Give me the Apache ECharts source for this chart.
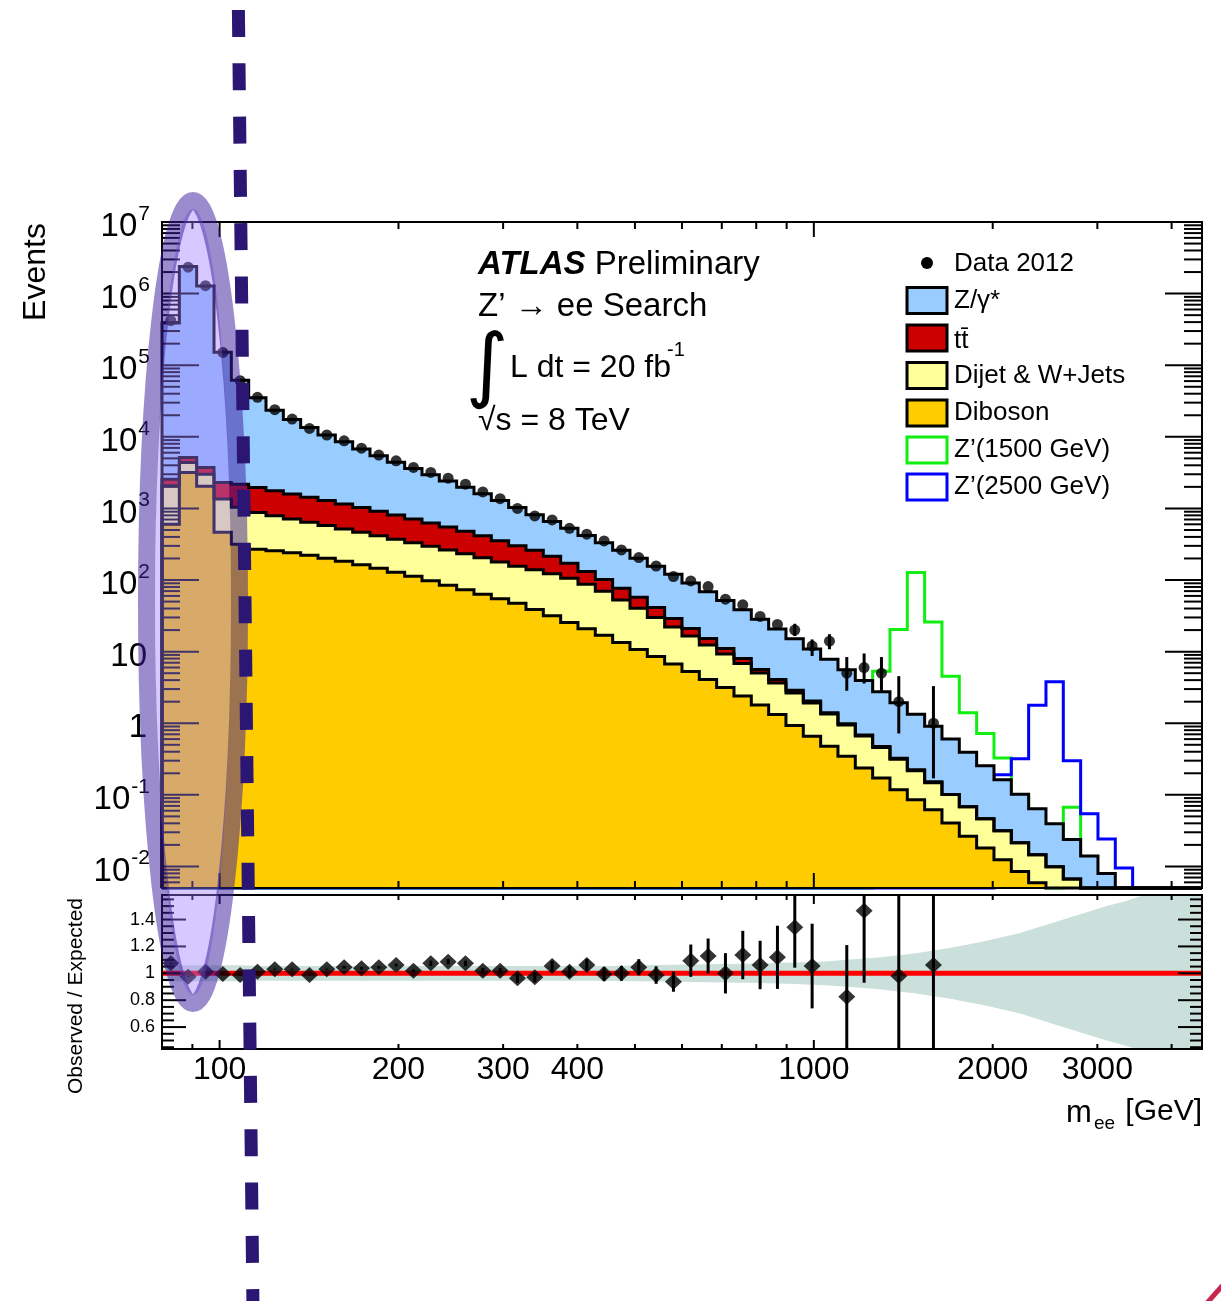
<!DOCTYPE html>
<html>
<head>
<meta charset="utf-8">
<title>ATLAS Z' to ee search</title>
<script src="https://cdn.jsdelivr.net/npm/echarts@6/dist/echarts.min.js"></script>
<style>
html,body{margin:0;padding:0;background:#ffffff;}
#chart{width:1221px;height:1301px;}
</style>
</head>
<body>
<div id="chart"></div>
<script>
// ---------------- data ----------------
const binEdges = [80, 85.56, 91.50, 97.86, 104.66, 111.93, 119.70, 128.02, 136.91, 146.42, 156.59,
  167.47, 179.10, 191.54, 204.85, 219.08, 234.30, 250.58, 267.99, 286.60, 306.51,
  327.80, 350.57, 374.92, 400.96, 428.81, 458.60, 490.46, 524.53, 560.97, 599.94,
  641.62, 686.19, 733.86, 784.84, 839.36, 897.67, 960.03, 1026.72, 1098.05, 1174.33,
  1255.91, 1343.16, 1436.47, 1536.26, 1642.98, 1757.12, 1879.19, 2009.74, 2149.36, 2298.68,
  2458.37, 2629.15, 2811.80, 3007.14, 3216.05, 3439.47, 3678.41, 3933.95, 4207.24, 4500];

const dataCounts = [419000, 2340000, 1290000, 151000, 60700, 35600, 23900, 17700, 13100, 10600,
  8790, 6950, 5550, 4620, 3730, 3180, 2640, 2180, 1700, 1370,
  1000, 785, 690, 528, 436, 351, 263, 206, 157, 112,
  97, 81, 54, 45, 31, 24, 20, 12, 14, 5,
  6, 5, 2, 0, 1, 0, 0, 0, 0, 0,
  0, 0, 0, 0, 0, 0, 0, 0, 0, 0];

const zgamma = [387400, 2395000, 1276000, 149700, 59300, 33240, 21780, 15860, 12060, 9350,
  7400, 5730, 4520, 3610, 2890, 2320, 1865, 1492, 1185, 935,
  727, 554, 443, 356, 287, 229, 183.4, 144.7, 114.5, 90.9,
  70.0, 53.5, 40.5, 30.4, 22.8, 16.7, 12.2, 8.86, 6.44, 4.60,
  3.25, 2.29, 1.60, 1.11, 0.759, 0.502, 0.326, 0.208, 0.131, 0.0806,
  0.0492, 0.0295, 0.0170, 0.0140, 0.0080, 0, 0, 0, 0, 0];

const ttbar = [490, 760, 720, 950, 1140, 1083, 979, 883, 794, 712,
  636, 565, 499, 438, 382, 331, 287, 248, 211, 174,
  145, 121, 92, 65, 44.9, 32.5, 23.8, 17.1, 11.4, 7.0,
  4.5, 2.9, 1.81, 1.2, 0.6, 0.43, 0.26, 0.12, 0.06, 0.04,
  0.025, 0.016, 0.010, 0.006, 0.004, 0, 0, 0, 0, 0,
  0, 0, 0, 0, 0, 0, 0, 0, 0, 0];

const dijet = [1469, 1210, 970, 885, 724, 608, 535, 473, 420, 376,
  334, 302, 269, 243, 218, 198.5, 178.7, 159.1, 140.9, 124.4,
  108.8, 100.1, 90.4, 80.4, 66.3, 52.6, 39.4, 29.5, 21.5, 15.4,
  11.3, 8.32, 6.13, 4.44, 3.24, 2.33, 1.71, 1.26, 0.868, 0.599,
  0.424, 0.285, 0.197, 0.132, 0.0859, 0.0603, 0.0421, 0.0284, 0.0191, 0.0129,
  0.0087, 0.0099, 0.0067, 0, 0, 0, 0, 0, 0, 0];

const diboson = [601, 3180, 2040, 465, 316, 269, 256, 240, 221, 201,
  183, 163, 146, 128, 113, 97.5, 84.3, 72.9, 63.1, 54.6,
  47.2, 38.9, 31.6, 25.6, 20.8, 16.9, 13.4, 10.7, 8.57, 6.73,
  5.28, 4.08, 3.16, 2.40, 1.80, 1.32, 0.929, 0.658, 0.477, 0.345,
  0.238, 0.172, 0.118, 0.0857, 0.0621, 0.0404, 0.0263, 0.0181, 0.0124, 0.0085,
  0.0059, 0, 0, 0, 0, 0, 0, 0, 0, 0];

const zprime1500 = [0, 0, 0, 0, 0, 0, 0, 0, 0, 0,
  0, 0, 0, 0, 0, 0, 0, 0, 0, 0,
  0, 0, 0, 0, 0, 0, 0, 0, 0, 0,
  0, 0, 0, 0, 0, 0, 0, 0, 0, 0,
  0, 5.34, 20.4, 127, 25.9, 4.54, 1.40, 0.718, 0.328, 0.09,
  0.04, 0, 0.067, 0, 0, 0, 0, 0, 0, 0];

const zprime2500 = [0, 0, 0, 0, 0, 0, 0, 0, 0, 0,
  0, 0, 0, 0, 0, 0, 0, 0, 0, 0,
  0, 0, 0, 0, 0, 0, 0, 0, 0, 0,
  0, 0, 0, 0, 0, 0, 0, 0, 0, 0,
  0, 0, 0, 0, 0, 0, 0, 0, 0.191, 0.318,
  1.79, 3.79, 0.30, 0.0545, 0.0242, 0.0095, 0, 0, 0, 0];

// visible data error bars (main panel), bin index + lower/upper bound
const dataErrBins = [36, 37, 38, 39, 40, 41, 42, 44];
const dataErrLow  = [16.5, 8.7, 10.8, 2.84, 3.59, 2.84, 0.72, 0.17];
const dataErrHigh = [24.5, 14.8, 17.5, 8.4, 9.42, 8.4, 4.55, 3.3];

// ratio panel (bins 0..44), null = not drawn
const ratioValues = [1.074, 0.975, 1.012, 0.995, 0.987, 1.012, 1.030, 1.030, 0.987, 1.030,
  1.045, 1.037, 1.045, 1.062, 1.019, 1.074, 1.086, 1.074, 1.019, 1.019,
  0.963, 0.970, 1.054, 1.012, 1.062, 0.995, 1.000, 1.045, 0.987, 0.938,
  1.094, 1.129, 1.000, 1.136, 1.062, 1.119, 1.342, 1.054, null, 0.826,
  1.466, null, 0.980, null, 1.062];
const ratioErrDown = [0.004, 0.004, 0.004, 0.004, 0.004, 0.004, 0.004, 0.004, 0.004, 0.004,
  0.01, 0.01, 0.01, 0.01, 0.01, 0.02, 0.02, 0.02, 0.02, 0.02,
  0.035, 0.037, 0.039, 0.042, 0.045, 0.05, 0.055, 0.06, 0.065, 0.075,
  0.12, 0.13, 0.15, 0.18, 0.18, 0.235, 0.30, 0.315, 0, 0.426,
  0.536, 0, 0.68, 0, 0.88];
const ratioErrUp = [0.004, 0.004, 0.004, 0.004, 0.004, 0.004, 0.004, 0.004, 0.004, 0.004,
  0.01, 0.01, 0.01, 0.01, 0.01, 0.02, 0.02, 0.02, 0.02, 0.02,
  0.035, 0.037, 0.039, 0.042, 0.045, 0.05, 0.055, 0.06, 0.065, 0.075,
  0.12, 0.13, 0.15, 0.18, 0.18, 0.235, 0.30, 0.315, 0, 0.384,
  0.534, 0, 1.32, 0, 2.44];

// systematic band half width around 1 (per bin)
const sysBand = [0.06, 0.06, 0.06, 0.06, 0.06, 0.055, 0.055, 0.055, 0.055, 0.055,
  0.055, 0.055, 0.055, 0.055, 0.055, 0.055, 0.055, 0.055, 0.055, 0.055,
  0.055, 0.055, 0.055, 0.055, 0.055, 0.055, 0.057, 0.059, 0.061, 0.063,
  0.065, 0.067, 0.069, 0.071, 0.073, 0.076, 0.08, 0.085, 0.09, 0.1,
  0.11, 0.12, 0.135, 0.15, 0.17, 0.19, 0.215, 0.24, 0.27, 0.30,
  0.34, 0.38, 0.42, 0.46, 0.50, 0.535, 0.575, 0.61, 0.65, 0.69];

// axis ticks and labels
const xMajorTicks = [100, 1000];
const xMinorTicks = [90, 200, 300, 400, 500, 600, 700, 800, 900, 2000, 3000, 4000];
const xTickLabels = [100, 200, 300, 400, 1000, 2000, 3000];
const yDecades = [-2, -1, 0, 1, 2, 3, 4, 5, 6, 7];
const ratioMajorTicks = [0.6, 0.8, 1.0, 1.2, 1.4];
const ratioTickLabels = ['0.6', '0.8', '1', '1.2', '1.4'];

const legendLabels = ['Data 2012', 'Z/\u03b3*', 'tt\u0304', 'Dijet & W+Jets', 'Diboson', 'Z\u2019(1500 GeV)', 'Z\u2019(2500 GeV)'];

// ---------------- styling / layout ----------------
const FONT = "'Liberation Sans', Arial, Helvetica, sans-serif";
const COL = {zgamma: '#99ccff', ttbar: '#cc0000', dijet: '#ffff99', diboson: '#ffcc00',
             z1500: '#11ee11', z2500: '#0000ff', band: '#cbe0da', red: '#ff0000'};
const X_MIN = 80, X_MAX = 4500, Y_MIN = 0.005, Y_MAX = 1e7, R_MIN = 0.4368, R_MAX = 1.5826;

const nBins = binEdges.length - 1;
const binCenters = [];
for (let i = 0; i < nBins; i++) binCenters.push((binEdges[i] + binEdges[i + 1]) / 2);

// cumulative stack levels
const levelD = diboson.slice();
const levelY = levelD.map((v, i) => v + dijet[i]);
const levelR = levelY.map((v, i) => v + ttbar[i]);
const levelT = levelR.map((v, i) => v + zgamma[i]);

function clampY(v) { return v > Y_MIN ? Math.min(v, Y_MAX) : Y_MIN; }
function clampR(v) { return Math.min(Math.max(v, R_MIN), R_MAX); }

function stepPoints(api, lv) {
  const pts = [api.coord([binEdges[0], Y_MIN])];
  for (let i = 0; i < lv.length; i++) {
    const v = clampY(lv[i]);
    pts.push(api.coord([binEdges[i], v]));
    pts.push(api.coord([binEdges[i + 1], v]));
  }
  pts.push(api.coord([binEdges[nBins], Y_MIN]));
  return pts;
}

function txt(x, y, text, size, align, extra) {
  const st = {text: text, fontSize: size, fontFamily: FONT, fill: '#000',
              align: align, textAlign: align, verticalAlign: 'middle', textVerticalAlign: 'middle'};
  if (extra) Object.assign(st, extra);
  return {type: 'text', x: x, y: y, style: st};
}
function seg(ch, x1, y1, x2, y2, w, c) {
  ch.push({type: 'line', shape: {x1: x1, y1: y1, x2: x2, y2: y2}, style: {stroke: c || '#000', lineWidth: w || 2}});
}

function cs(grid, z, render, clip) {
  return {type: 'custom', coordinateSystem: 'cartesian2d', xAxisIndex: grid, yAxisIndex: grid,
          z: z, silent: true, clip: !!clip, data: [[100, 1]],
          renderItem: function (params, api) { return render(api); }};
}

// ---------------- series ----------------
const series = [];

// signals (drawn first, stack fill hides them where below background)
series.push(cs(0, 1, function (api) {
  return {type: 'group', children: [
    {type: 'polyline', shape: {points: stepPoints(api, zprime1500)}, style: {stroke: COL.z1500, lineWidth: 3, fill: 'none'}},
    {type: 'polyline', shape: {points: stepPoints(api, zprime2500)}, style: {stroke: COL.z2500, lineWidth: 3, fill: 'none'}}
  ]};
}));

// stacked fills
series.push(cs(0, 2, function (api) {
  return {type: 'group', children: [
    {type: 'polygon', shape: {points: stepPoints(api, levelT)}, style: {fill: COL.zgamma}},
    {type: 'polygon', shape: {points: stepPoints(api, levelR)}, style: {fill: COL.ttbar}},
    {type: 'polygon', shape: {points: stepPoints(api, levelY)}, style: {fill: COL.dijet}},
    {type: 'polygon', shape: {points: stepPoints(api, levelD)}, style: {fill: COL.diboson}}
  ]};
}));

// stack outlines
series.push(cs(0, 3, function (api) {
  return {type: 'group', children: [levelT, levelR, levelY, levelD].map(lv => (
    {type: 'polyline', shape: {points: stepPoints(api, lv)}, style: {stroke: '#000', lineWidth: 3, fill: 'none'}}
  ))};
}));

// main frame + ticks
series.push(cs(0, 4, function (api) {
  const ch = [];
  const x0 = api.coord([X_MIN, 1])[0], x1 = api.coord([X_MAX, 1])[0];
  const yb = api.coord([100, Y_MIN])[1], yt = api.coord([100, Y_MAX])[1];
  yDecades.forEach(n => {
    const y = api.coord([100, Math.pow(10, n)])[1];
    seg(ch, x0, y, x0 + 37, y); seg(ch, x1, y, x1 - 37, y);
  });
  for (let n = -3; n <= 6; n++) {
    for (let m = 2; m <= 9; m++) {
      const v = m * Math.pow(10, n);
      if (v < Y_MIN * 0.999 || v > Y_MAX) continue;
      const y = api.coord([100, v])[1];
      seg(ch, x0, y, x0 + 18, y); seg(ch, x1, y, x1 - 18, y);
    }
  }
  xMajorTicks.forEach(v => { const x = api.coord([v, 1])[0]; seg(ch, x, yb, x, yb - 15); seg(ch, x, yt, x, yt + 15); });
  xMinorTicks.forEach(v => { const x = api.coord([v, 1])[0]; seg(ch, x, yb, x, yb - 7); seg(ch, x, yt, x, yt + 7); });
  ch.push({type: 'rect', shape: {x: x0, y: yt, width: x1 - x0, height: yb - yt}, style: {fill: 'none', stroke: '#000', lineWidth: 2}});
  return {type: 'group', children: ch};
}));

// main y labels
series.push(cs(0, 4, function (api) {
  const ch = [];
  const right = 150, dy = 5;
  yDecades.forEach(n => {
    const y = api.coord([100, Math.pow(10, n)])[1] + dy;
    if (n === 0) { ch.push(txt(147, y, '1', 33, 'right')); return; }
    if (n === 1) { ch.push(txt(147, y, '10', 33, 'right')); return; }
    const e = String(n);
    let ew = 0; for (const c of e) ew += (c === '-' ? 7 : 11.7);
    ch.push(txt(right, y - 13, e, 21, 'right'));
    ch.push(txt(right - ew - 1, y, '10', 33, 'right'));
  });
  return {type: 'group', children: ch};
}, false));

// data error bars
series.push(cs(0, 5, function (api) {
  const ch = [];
  dataErrBins.forEach((b, k) => {
    const p1 = api.coord([binCenters[b], clampY(dataErrLow[k])]);
    const p2 = api.coord([binCenters[b], clampY(dataErrHigh[k])]);
    seg(ch, p1[0], p1[1], p2[0], p2[1], 3);
  });
  return {type: 'group', children: ch};
}));

// data points
const dataPoints = [];
dataCounts.forEach((c, i) => { if (c > 0) dataPoints.push([binCenters[i], c]); });
series.push({type: 'scatter', xAxisIndex: 0, yAxisIndex: 0, z: 6, silent: true,
  symbol: 'circle', symbolSize: 11, itemStyle: {color: '#000'}, data: dataPoints});

// ratio band
series.push(cs(1, 2, function (api) {
  const up = [], lo = [];
  up.push(api.coord([X_MIN, 1 + sysBand[0]]));
  lo.push(api.coord([X_MIN, 1 - sysBand[0]]));
  for (let i = 0; i < nBins; i++) {
    up.push(api.coord([binCenters[i], 1 + sysBand[i]]));
    lo.push(api.coord([binCenters[i], 1 - sysBand[i]]));
  }
  up.push(api.coord([X_MAX, 1 + sysBand[nBins - 1]]));
  lo.push(api.coord([X_MAX, 1 - sysBand[nBins - 1]]));
  return {type: 'polygon', shape: {points: up.concat(lo.reverse())}, style: {fill: COL.band}};
}, true));

// ratio reference line
series.push(cs(1, 3, function (api) {
  const a = api.coord([X_MIN, 1]), b = api.coord([X_MAX, 1]);
  return {type: 'line', shape: {x1: a[0], y1: a[1], x2: b[0], y2: b[1]}, style: {stroke: COL.red, lineWidth: 5}};
}));

// ratio frame, ticks, labels
series.push(cs(1, 4, function (api) {
  const ch = [];
  const x0 = api.coord([X_MIN, 1])[0], x1 = api.coord([X_MAX, 1])[0];
  const yb = api.coord([100, R_MIN])[1], yt = api.coord([100, R_MAX])[1];
  ratioMajorTicks.forEach((v, k) => {
    const y = api.coord([100, v])[1];
    seg(ch, x0, y, x0 + 24, y); seg(ch, x1, y, x1 - 24, y);
    ch.push(txt(155, y, ratioTickLabels[k], 18, 'right'));
  });
  for (let k = 9; k <= 31; k++) {
    if (k % 4 === 0) continue;
    const y = api.coord([100, k * 0.05])[1];
    seg(ch, x0, y, x0 + 12, y); seg(ch, x1, y, x1 - 12, y);
  }
  xMajorTicks.forEach(v => { const x = api.coord([v, 1])[0]; seg(ch, x, yb, x, yb - 9); seg(ch, x, yt, x, yt + 9); });
  xMinorTicks.forEach(v => { const x = api.coord([v, 1])[0]; seg(ch, x, yb, x, yb - 5); seg(ch, x, yt, x, yt + 5); });
  xTickLabels.forEach(v => { const x = api.coord([v, 1])[0]; ch.push(txt(x, 1070, String(v), 32, 'center')); });
  ch.push({type: 'rect', shape: {x: x0, y: yt, width: x1 - x0, height: yb - yt}, style: {fill: 'none', stroke: '#000', lineWidth: 2}});
  return {type: 'group', children: ch};
}, false));

// ratio error bars
series.push(cs(1, 5, function (api) {
  const ch = [];
  ratioValues.forEach((r, i) => {
    if (r === null) return;
    const p1 = api.coord([binCenters[i], clampR(r - ratioErrDown[i])]);
    const p2 = api.coord([binCenters[i], clampR(r + ratioErrUp[i])]);
    seg(ch, p1[0], p1[1], p2[0], p2[1], 3);
  });
  return {type: 'group', children: ch};
}));

const ratioPoints = [];
ratioValues.forEach((r, i) => { if (r !== null) ratioPoints.push([binCenters[i], r]); });
series.push({type: 'scatter', xAxisIndex: 1, yAxisIndex: 1, z: 6, silent: true,
  symbol: 'diamond', symbolSize: [17, 16], itemStyle: {color: '#000'}, data: ratioPoints});

// ---------------- graphic: legend, annotations, overlays ----------------
const g = [];
function gtext(x, y, text, size, align, extra, rot) {
  const st = {text: text, fontSize: size, fontFamily: FONT, fill: '#000',
              align: align || 'left', textAlign: align || 'left', verticalAlign: 'middle', textVerticalAlign: 'middle'};
  if (extra) Object.assign(st, extra);
  const el = {type: 'text', x: x, y: y, style: st, z: 10};
  if (rot) el.rotation = rot;
  return el;
}
// legend
g.push({type: 'circle', shape: {cx: 927, cy: 263, r: 6}, style: {fill: '#000'}, z: 10});
g.push(gtext(954, 264, legendLabels[0], 26));
const legendRowY = [300.5, 338, 375.5, 413, 450, 487];
const legendFill = [COL.zgamma, COL.ttbar, COL.dijet, COL.diboson, '#ffffff', '#ffffff'];
const legendStroke = ['#000', '#000', '#000', '#000', COL.z1500, COL.z2500];
for (let k = 0; k < 6; k++) {
  g.push({type: 'rect', shape: {x: 907, y: legendRowY[k] - 13, width: 40, height: 26},
          style: {fill: legendFill[k], stroke: legendStroke[k], lineWidth: 3}, z: 10});
  g.push(gtext(954, legendRowY[k] + (k === 1 ? 3 : 0), legendLabels[k + 1], 26));
}
// annotation text block
g.push(gtext(478, 265, '{a|ATLAS} Preliminary', 33, 'left',
  {rich: {a: {fontSize: 33, fontFamily: FONT, fontWeight: 'bold', fontStyle: 'italic', fill: '#000'}}}));
g.push(gtext(478, 307, 'Z\u2019 \u2192 ee Search', 33));
g.push(gtext(487, 371, '\u222b', 82, 'center', {fontFamily: "'DejaVu Sans', 'Liberation Sans', sans-serif"}));
g.push(gtext(510, 368, 'L dt = 20 fb', 32));
g.push(gtext(667, 350, '-1', 20));
g.push(gtext(478, 421, '\u221as = 8 TeV', 32));
// axis titles
g.push(gtext(36, 272, 'Events', 32, 'center', null, Math.PI / 2));
g.push(gtext(76, 996, 'Observed / Expected', 21, 'center', null, Math.PI / 2));
g.push(gtext(1066, 1113, 'm', 31));
g.push(gtext(1094, 1124, 'ee', 19));
g.push(gtext(1202, 1112, '[GeV]', 30, 'right'));

// overlays drawn on top of the chart
g.push({type: 'ellipse', shape: {cx: 193, cy: 602, rx: 38, ry: 393}, style: {fill: 'rgba(157,121,255,0.41)'}, z: 100});
g.push({type: 'ellipse', shape: {cx: 193, cy: 602, rx: 46.5, ry: 401.5}, style: {fill: 'none', stroke: 'rgba(59,29,157,0.51)', lineWidth: 17}, z: 100});
g.push({type: 'line', shape: {x1: 237.8, y1: -43.3, x2: 252.9, y2: 1301}, style: {stroke: '#2b1773', lineWidth: 13, lineDash: [27, 26.3]}, z: 101});
g.push({type: 'line', shape: {x1: 1207, y1: 1303, x2: 1223, y2: 1285}, style: {stroke: '#c8264f', lineWidth: 5}, z: 101});

const option = {
  animation: false,
  backgroundColor: '#ffffff',
  grid: [
    {left: 162, top: 222, width: 1040, height: 666, containLabel: false, outerBoundsMode: 'none'},
    {left: 162, top: 895, width: 1040, height: 154, containLabel: false, outerBoundsMode: 'none'}
  ],
  xAxis: [
    {type: 'log', gridIndex: 0, logBase: 10, min: X_MIN, max: X_MAX, show: false},
    {type: 'log', gridIndex: 1, logBase: 10, min: X_MIN, max: X_MAX, show: false}
  ],
  yAxis: [
    {type: 'log', gridIndex: 0, logBase: 10, min: Y_MIN, max: Y_MAX, show: false},
    {type: 'value', gridIndex: 1, min: R_MIN, max: R_MAX, show: false}
  ],
  series: series,
  graphic: {elements: g}
};

const chart = echarts.init(document.getElementById('chart'), null, {renderer: 'canvas'});
chart.setOption(option);
</script>
</body>
</html>
